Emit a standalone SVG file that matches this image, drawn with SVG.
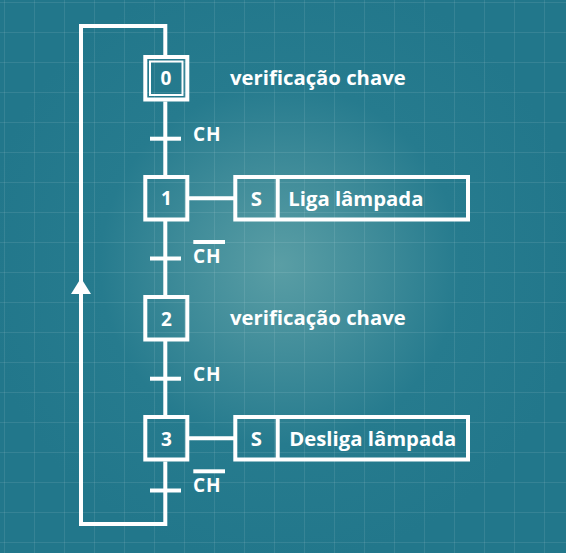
<svg xmlns="http://www.w3.org/2000/svg" width="566" height="553" viewBox="0 0 566 553">
  <defs>
    <radialGradient id="bg" cx="280" cy="265" r="300" gradientUnits="userSpaceOnUse">
      <stop offset="0" stop-color="#5a9ea5"/>
      <stop offset="0.3" stop-color="#418d9a"/>
      <stop offset="0.6" stop-color="#267b8e"/>
      <stop offset="1" stop-color="#22778b"/>
    </radialGradient>
    <pattern id="grid" x="4" y="2" width="30" height="30" patternUnits="userSpaceOnUse">
      <path d="M0.5,0 V30 M0,0.5 H30" fill="none" stroke="#ffffff" stroke-opacity="0.09" stroke-width="1"/>
    </pattern>
    <style>
      .ln { fill: none; stroke: #ffffff; stroke-width: 4; stroke-linejoin: miter; stroke-linecap: butt; }
      .thin { fill: none; stroke: #ffffff; stroke-width: 2; }
      .lbl { font-family: "Open Sans", Lato, "Liberation Sans", sans-serif; font-weight: bold; fill: #ffffff; }
      .num { font-size: 19px; text-anchor: middle; }
      .act { font-size: 20.3px; }
      .cmt { font-size: 20.3px; }
      .cond { font-size: 19px; letter-spacing: 0.8px; }
    </style>
  </defs>
  <rect x="0" y="0" width="566" height="553" fill="url(#bg)"/>
  <rect x="0" y="0" width="566" height="553" fill="url(#grid)"/>

  <g id="connectors">
    <path class="ln" d="M165.3,55 V26 H81 V524 H165.3 V461.5"/>
    <path d="M81,278 L71,294 L91,294 Z" fill="#ffffff"/>
    <path class="ln" d="M165.3,101.5 V175 M165.3,219 V295 M165.3,339 V415"/>
    <path class="ln" d="M189,198.2 H235 M189,438.2 H235"/>
  </g>

  <g id="transitions">
    <g id="t0">
      <path class="ln" d="M150,138.7 H181"/>
      <text class="lbl cond" x="193" y="140.7">CH</text>
    </g>
    <g id="t1">
      <path class="ln" d="M150,258.5 H181"/>
      <path class="ln" d="M193.3,242 H225" stroke-width="2.7"/>
      <text class="lbl cond" x="193" y="262.7">CH</text>
    </g>
    <g id="t2">
      <path class="ln" d="M150,378.7 H181"/>
      <text class="lbl cond" x="193" y="380.5">CH</text>
    </g>
    <g id="t3">
      <path class="ln" d="M150,490.5 H181"/>
      <path class="ln" d="M193.3,471.3 H225" stroke-width="2.7"/>
      <text class="lbl cond" x="193" y="491.7">CH</text>
    </g>
  </g>

  <g id="step0">
    <rect class="ln" x="145.3" y="57" width="42" height="42.5"/>
    <rect class="thin" x="150" y="61.5" width="32.5" height="33.5"/>
    <text class="lbl num" x="166" y="85">0</text>
    <text class="lbl cmt" x="230" y="85">verificação chave</text>
  </g>
  <g id="step1">
    <rect class="ln" x="145.3" y="177" width="42" height="42.5"/>
    <text class="lbl num" x="166.5" y="205">1</text>
  </g>
  <g id="action1">
    <rect class="ln" x="235.3" y="177" width="232.7" height="42.5"/>
    <path class="ln" d="M277.7,177 V219.5"/>
    <text class="lbl act" x="256.3" y="206" text-anchor="middle">S</text>
    <text class="lbl act" x="288.3" y="206">Liga lâmpada</text>
  </g>
  <g id="step2">
    <rect class="ln" x="145.3" y="297" width="42" height="42.5"/>
    <text class="lbl num" x="166.5" y="325.5">2</text>
    <text class="lbl cmt" x="230" y="325">verificação chave</text>
  </g>
  <g id="step3">
    <rect class="ln" x="145.3" y="417" width="42" height="42.5"/>
    <text class="lbl num" x="166.5" y="445.5">3</text>
  </g>
  <g id="action3">
    <rect class="ln" x="235.3" y="417" width="232.7" height="42.5"/>
    <path class="ln" d="M277.7,417 V459.5"/>
    <text class="lbl act" x="256.3" y="445.7" text-anchor="middle">S</text>
    <text class="lbl act" x="289.3" y="445.7">Desliga lâmpada</text>
  </g>
</svg>
